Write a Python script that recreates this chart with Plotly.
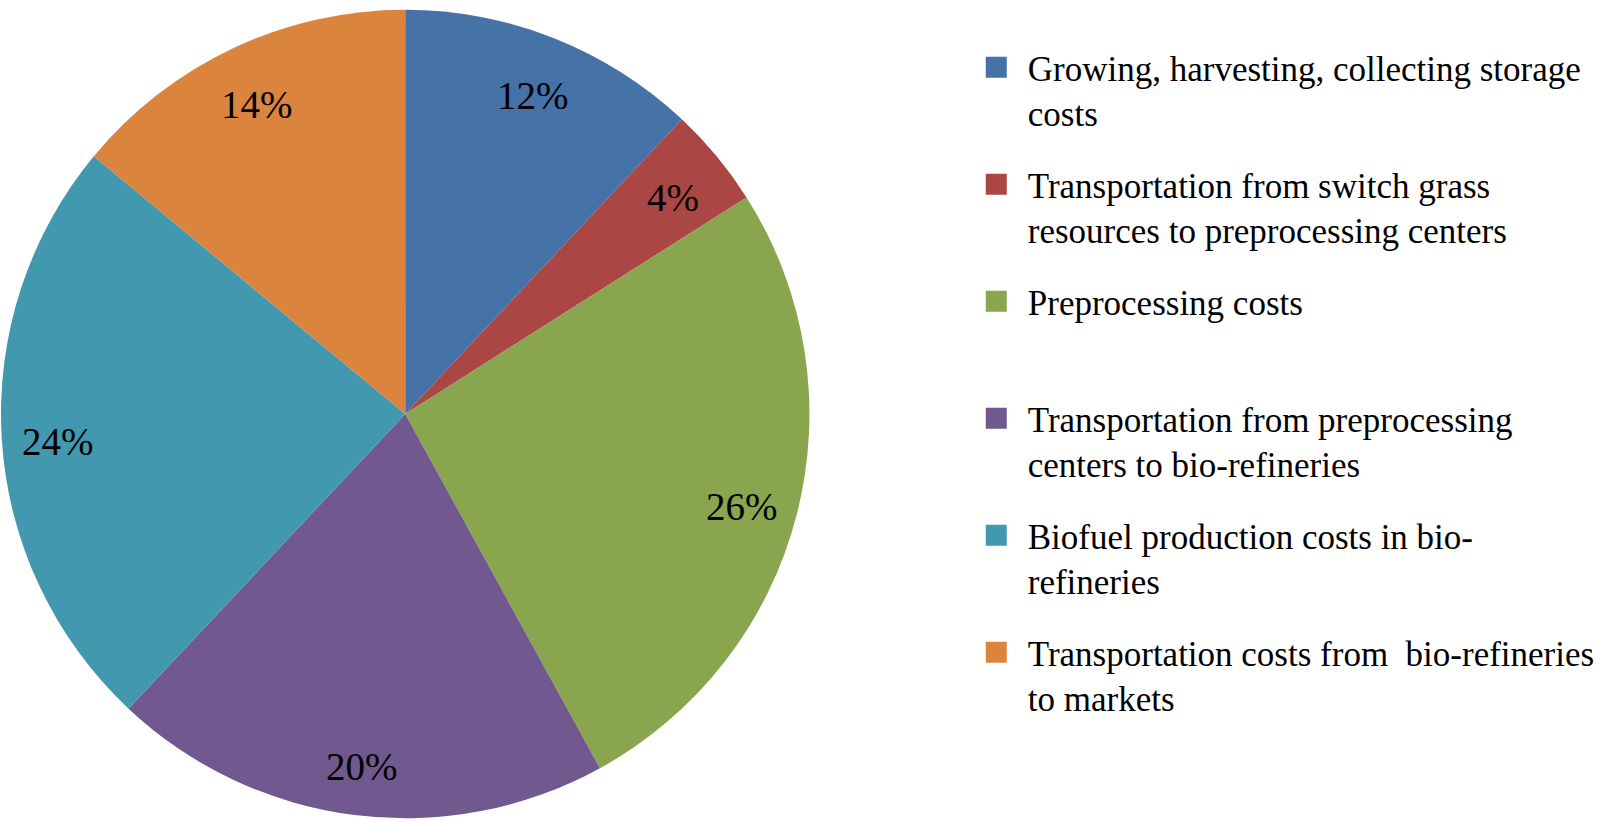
import math
import plotly.graph_objects as go

labels = [
    "Growing, harvesting, collecting storage<br>costs",
    "Transportation from switch grass<br>resources to preprocessing centers",
    "Preprocessing costs<br> ",
    "Transportation from preprocessing<br>centers to bio-refineries",
    "Biofuel production costs in bio-<br>refineries",
    "Transportation costs from  bio-refineries<br>to markets",
]
values = [12, 4, 26, 20, 24, 14]
colors = ["#4572A7", "#AA4643", "#89A54E", "#71588F", "#4198AF", "#DB843D"]
text_labels = ["12%", "4%", "26%", "20%", "24%", "14%"]

W, H = 1600, 821
CX, CY, R = 407, 414, 406  # pixel centre (from top) and radius
FONT = "Liberation Serif, Times New Roman, serif"

fig = go.Figure()
fig.add_trace(go.Pie(
    labels=labels, values=values, sort=False, direction="clockwise", rotation=0,
    marker=dict(colors=colors, line=dict(width=0)),
    textinfo="none", hoverinfo="label+percent", showlegend=False,
    domain=dict(x=[(CX - R) / W, (CX + R) / W], y=[(H - CY - R) / H, (H - CY + R) / H]),
))

# legend entries as dummy traces so that items can be spaced evenly
for i, (lab, col) in enumerate(zip(labels, colors)):
    fig.add_trace(go.Scatter(
        x=[None], y=[None], mode="markers", name=lab, legendgroup=f"g{i}",
        marker=dict(symbol="square", size=16, color=col, line=dict(width=5, color=col)),
        showlegend=True, hoverinfo="skip",
    ))

# percentage labels placed near the outer part of each slice
total = sum(values)
cum = 0
for v, t in zip(values, text_labels):
    mid = (cum + v / 2) / total * 2 * math.pi
    cum += v
    px = CX + 0.86 * R * math.sin(mid)
    py = CY - 0.86 * R * math.cos(mid)
    fig.add_annotation(x=px / W, y=1 - py / H, xref="paper", yref="paper",
                       xanchor="center", yanchor="middle", yshift=-6,
                       text=t, showarrow=False, font=dict(family=FONT, size=39, color="black"))

fig.update_layout(
    width=W, height=H, margin=dict(l=0, r=0, t=0, b=0),
    paper_bgcolor="white", plot_bgcolor="white",
    xaxis=dict(visible=False), yaxis=dict(visible=False),
    legend=dict(x=969 / W, xanchor="left", y=1 - 38 / H, yanchor="top",
                font=dict(family=FONT, size=35, color="black"),
                valign="top", tracegroupgap=23, itemwidth=53,
                bgcolor="rgba(0,0,0,0)", borderwidth=0),
)

fig.write_html("out.html", config={"displayModeBar": False},
               post_script="document.body.style.margin='0';document.body.style.overflow='hidden';")
